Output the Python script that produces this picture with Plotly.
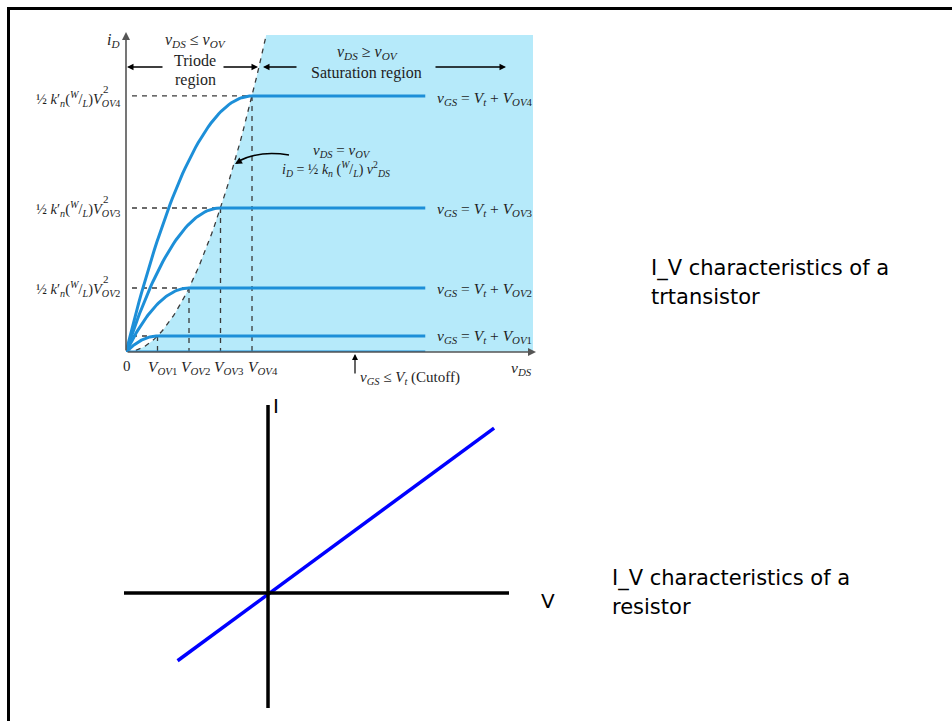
import numpy as np
import plotly.graph_objects as go

W, H = 952, 721

# MOSFET output characteristics (v_DS in units of V_OV1, i_D in units of the OV1 saturation current)
v_ov = [1, 2, 3, 4]
i_sat = [1, 4, 9, 16]
ov_names = ["OV1", "OV2", "OV3", "OV4"]
vds_max = 12.92
id_max = 19.81
vds_sat_end = 9.5

# resistor I-V line
res_v = [-4.0, 10.0]
res_i = [-3.0, 7.3]
res_v_range = [-6.37, 10.66]
res_i_range = [-5.09, 8.32]

CURVE = "#1d8fd8"
SHADE = "#b6eafa"
DASH = "#3a3a3a"
AXIS = "#555555"
TXT = "#1e1e1e"
SERIF = "Liberation Serif"
SANS = "DejaVu Sans"


def px(x):
    return x / W


def py(y):
    return 1 - y / H


fig = go.Figure()

# saturation region shading bounded on the left by the v_DS = v_OV parabola
v_edge = np.linspace(0, np.sqrt(id_max), 60)
fig.add_trace(go.Scatter(
    x=list(v_edge) + [vds_max, vds_max, 0],
    y=list(v_edge ** 2) + [id_max, 0, 0],
    fill="toself", fillcolor=SHADE, mode="lines", line=dict(width=0),
    hoverinfo="skip", showlegend=False))

# boundary parabola i_D = 1/2 k_n (W/L) v_DS^2
fig.add_trace(go.Scatter(
    x=v_edge, y=v_edge ** 2, mode="lines",
    line=dict(color=DASH, width=1.3, dash="5px,5px"),
    hoverinfo="skip", showlegend=False))

# guide lines from each saturation point to the axes
for v, i in zip(v_ov, i_sat):
    fig.add_trace(go.Scatter(
        x=[0.19, v], y=[i, i], mode="lines",
        line=dict(color=DASH, width=1.3, dash="5px,5px"),
        hoverinfo="skip", showlegend=False))
    fig.add_trace(go.Scatter(
        x=[v, v], y=[i, 0], mode="lines",
        line=dict(color=DASH, width=1.3, dash="5px,5px"),
        hoverinfo="skip", showlegend=False))

# axis arrows of the transistor plot
fig.add_annotation(x=px(536), y=py(352), xref="paper", yref="paper", text="",
                   showarrow=True, ax=-410, ay=0, arrowhead=2, arrowsize=1,
                   arrowwidth=1.6, arrowcolor=AXIS, standoff=0)
fig.add_annotation(x=px(126), y=py(32), xref="paper", yref="paper", text="",
                   showarrow=True, ax=0, ay=320, arrowhead=2, arrowsize=1,
                   arrowwidth=1.6, arrowcolor=AXIS, standoff=0)

# drain-current curves: triode (square law) then flat saturation
for v, i in zip(v_ov, i_sat):
    vt = np.linspace(0, v, 50)
    it = 2 * v * vt - vt ** 2
    fig.add_trace(go.Scatter(
        x=list(vt) + [vds_sat_end], y=list(it) + [i], mode="lines",
        line=dict(color=CURVE, width=3), hoverinfo="skip", showlegend=False))

# cutoff curve (i_D = 0)
fig.add_trace(go.Scatter(
    x=[0, vds_sat_end], y=[0, 0], mode="lines",
    line=dict(color=CURVE, width=3), hoverinfo="skip", showlegend=False))

# resistor: straight line through the origin
fig.add_trace(go.Scatter(
    x=res_v, y=res_i, mode="lines", xaxis="x2", yaxis="y2",
    line=dict(color="#0000ff", width=3.5), hoverinfo="skip", showlegend=False))

shapes = [
    # frame (top and left edges)
    dict(type="line", xref="paper", yref="paper", x0=px(8), x1=1.0, y0=py(8.5), y1=py(8.5),
         line=dict(color="black", width=3)),
    dict(type="line", xref="paper", yref="paper", x0=px(8.5), x1=px(8.5), y0=py(7), y1=0,
         line=dict(color="black", width=3)),
    # resistor axes
    dict(type="line", xref="x2", yref="y2", x0=res_v_range[0], x1=res_v_range[1], y0=0, y1=0,
         line=dict(color="black", width=3.5)),
    dict(type="line", xref="x2", yref="y2", x0=0, x1=0, y0=res_i_range[0], y1=res_i_range[1],
         line=dict(color="black", width=3.5)),
    # curved pointer to the boundary parabola
    dict(type="path", xref="paper", yref="paper",
         path="M {},{} Q {},{} {},{}".format(px(289), py(155), px(258), py(150), px(237), py(162)),
         line=dict(color="black", width=1.4)),
]

ann = []


def text(x, y, s, size=14, xanchor="center", family=SERIF, color=TXT):
    ann.append(dict(x=px(x), y=py(y), xref="paper", yref="paper", text=s, showarrow=False,
                    xanchor=xanchor, yanchor="middle", font=dict(family=family, size=size, color=color)))


def arrow(x_head, y_head, dx, dy, color="black", width=1.3):
    ann.append(dict(x=px(x_head), y=py(y_head), xref="paper", yref="paper", text="",
                    showarrow=True, ax=dx, ay=dy, arrowhead=2, arrowsize=1,
                    arrowwidth=width, arrowcolor=color, standoff=0))


level_y = [335, 288, 208, 98]
tick_x = [162, 195, 228, 263]

for name, ly, tx in zip(ov_names, level_y, tick_x):
    text(122, ly + 1,
         "½ <i>k</i>′<sub><i>n</i></sub>(<sup><i>W</i></sup>/<sub><i>L</i></sub>)<i>V</i><sub><i>OV</i>"
         + name[-1] + "</sub>", size=14.5, xanchor="right")
    text(101, ly - 9, "2", size=11, xanchor="left")
    text(435, ly + 1,
         "<i>v</i><sub><i>GS</i></sub> = <i>V</i><sub><i>t</i></sub> + <i>V</i><sub><i>OV</i>"
         + name[-1] + "</sub>", size=15.5, xanchor="left")
    text(tx, 367, "<i>V</i><sub><i>OV</i>" + name[-1] + "</sub>", size=15.5)

text(127, 366, "0", size=15)
text(521, 368, "<i>v</i><sub><i>DS</i></sub>", size=15.5)
text(113, 41, "<i>i</i><sub><i>D</i></sub>", size=16)

text(195, 41, "<i>v</i><sub><i>DS</i></sub> ≤ <i>v</i><sub><i>OV</i></sub>", size=16)
text(195, 61, "Triode", size=16)
text(195, 80, "region", size=16)
text(367, 53, "<i>v</i><sub><i>DS</i></sub> ≥ <i>v</i><sub><i>OV</i></sub>", size=16)
text(366, 73, "Saturation region", size=16)

text(342, 151, "<i>v</i><sub><i>DS</i></sub> = <i>v</i><sub><i>OV</i></sub>", size=15)
text(336, 169,
     "<i>i</i><sub><i>D</i></sub> = ½ <i>k</i><sub><i>n</i></sub> (<sup><i>W</i></sup>/<sub><i>L</i></sub>) "
     "<i>v</i><sup>2</sup><sub><i>DS</i></sub>", size=14)

text(358, 378, "<i>v</i><sub><i>GS</i></sub> ≤ <i>V</i><sub><i>t</i></sub> (Cutoff)", size=15, xanchor="left")

# region arrows
arrow(127, 67, 37, 0)
arrow(258, 67, -36, 0)
arrow(263, 67, 35, 0)
arrow(506, 67, -72, 0)
# pointer heads
arrow(235, 164, 7, -4, width=1.4)
arrow(355, 354, 0, 21, width=1.2)

# side captions and resistor axis labels
text(649, 268, "I_V characteristics of a", size=21, xanchor="left", family=SANS, color="black")
text(649, 297, "trtansistor", size=21, xanchor="left", family=SANS, color="black")
text(610, 578, "I_V characteristics of a", size=21, xanchor="left", family=SANS, color="black")
text(610, 607, "resistor", size=21, xanchor="left", family=SANS, color="black")
text(271, 406, "I", size=20, xanchor="left", family=SANS, color="black")
text(539, 601, "V", size=20, xanchor="left", family=SANS, color="black")

fig.update_layout(
    width=W, height=H, autosize=False,
    margin=dict(l=0, r=0, t=0, b=0),
    paper_bgcolor="white", plot_bgcolor="rgba(0,0,0,0)",
    showlegend=False,
    xaxis=dict(domain=[126 / W, 533 / W], range=[0, vds_max], visible=False, fixedrange=True),
    yaxis=dict(domain=[1 - 352 / H, 1 - 35 / H], range=[0, id_max], visible=False, fixedrange=True),
    xaxis2=dict(domain=[124 / W, 509 / W], range=res_v_range, visible=False, anchor="y2", fixedrange=True),
    yaxis2=dict(domain=[1 - 708 / H, 1 - 405 / H], range=res_i_range, visible=False, anchor="x2",
                fixedrange=True),
    shapes=shapes,
    annotations=ann,
)

fig.write_html("out.html")
